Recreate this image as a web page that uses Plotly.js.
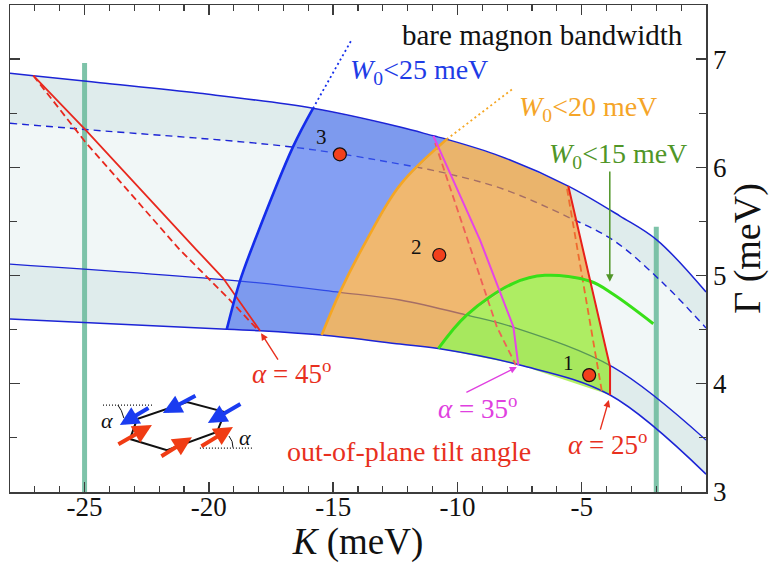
<!DOCTYPE html>
<html>
<head>
<meta charset="utf-8">
<script src="https://cdn.plot.ly/plotly-3.0.1.min.js"></script>
<style>
  html, body { margin: 0; padding: 0; background: #fff; }
  #chart { width: 774px; height: 563px; }
</style>
</head>
<body>
<div id="chart"></div>
<script>
const serif = '"Liberation Serif", "Times New Roman", Times, serif';

// ---- boundary curves of the (K, Γ) map, meV ----
// upper edge of the magnon band window
const K_top = [-28, -27.06, -24.38, -20.36, -15.81, -12.31, -10.97, -10.43, -8.29, -5.54, -3.46, -1.97, 0];
const G_top = [6.869, 6.847, 6.782, 6.684, 6.545, 6.372, 6.291, 6.259, 6.104, 5.827, 5.55, 5.328, 4.848];
// dashed centre line of the upper window
const K_dash = [-28, -24.98, -16.62, -12.31, -10.42, -8.17, -5.55, -3.74, -1.73, 0];
const G_dash = [6.407, 6.350, 6.187, 6.030, 5.943, 5.800, 5.541, 5.328, 4.931, 4.515];
// upper edge of the lower window
const K_mid = [-28, -18.75, -14.73, -12.31, -9.63, -7.77, -3.74, 0];
const G_mid = [5.106, 4.949, 4.845, 4.774, 4.635, 4.524, 4.154, 3.48];
// lower edge of the lower window
const K_bot = [-28, -19.28, -17.94, -15.46, -12.31, -10.77, -7.49, -3.86, 0];
const G_bot = [4.598, 4.503, 4.490, 4.450, 4.367, 4.325, 4.173, 3.896, 3.165];

// bare bandwidth contours
const K_w25 = [-19.28, -18.75, -18.145, -16.62, -15.81];
const G_w25 = [4.503, 4.949, 5.328, 6.187, 6.545];
const K_w25x = [-15.81, -14.26];
const G_w25x = [6.545, 7.177];
const K_w20 = [-15.46, -14.73, -13.65, -12.31, -10.43];
const G_w20 = [4.45, 4.845, 5.328, 5.836, 6.259];
const K_w20x = [-10.43, -7.75];
const G_w20x = [6.259, 6.73];
const K_w15 = [-10.77, -9.63, -7.75, -6.48, -4.65, -3.73, -2.12];
const G_w15 = [4.325, 4.635, 4.928, 5.002, 4.947, 4.827, 4.555];

// tilt-angle limits (solid and dashed)
const K_a45 = [-27.06, -24.98, -20.49, -19.43, -17.94];
const G_a45 = [6.847, 6.35, 5.236, 4.977, 4.49];
const K_a45d = [-27.06, -24.98, -21.16, -19.28, -18.02];
const G_a45d = [6.847, 6.237, 5.236, 4.804, 4.496];
const K_a35 = [-10.97, -9.09, -7.75, -7.55];
const G_a35 = [6.291, 5.328, 4.527, 4.173];
const K_a35d = [-10.90, -9.58, -8.41, -7.65];
const G_a35d = [6.225, 5.328, 4.524, 4.173];
const K_a25 = [-5.54, -4.65, -3.86, -3.86];
const G_a25 = [5.827, 4.947, 4.157, 3.896];
const K_a25d = [-5.59, -4.19];
const G_a25d = [5.802, 3.93];

// vertical markers
const K_vert = [-25, -2];
const G_vertTop = [6.964, 5.451];

// labelled parameter sets
const K_pts = [-4.70, -10.73, -14.73];
const G_pts = [4.08, 5.19, 6.12];
const ptLabels = ['1', '2', '3'];

// ---- helpers ----
function part(K, G, k0, k1) {
  const x = [], y = [];
  K.forEach((k, i) => { if (k >= k0 - 1e-9 && k <= k1 + 1e-9) { x.push(k); y.push(G[i]); } });
  return { x, y };
}
function rev(p) { return { x: p.x.slice().reverse(), y: p.y.slice().reverse() }; }
function join(...ps) { return { x: [].concat(...ps.map(p => p.x)), y: [].concat(...ps.map(p => p.y)) }; }

const blueLine = 'rgb(28,36,214)';
const traces = [];
function ghost(x, y) {
  traces.push({ x, y, mode: 'lines', line: { width: 0, shape: 'spline', color: 'rgba(0,0,0,0)' }, hoverinfo: 'skip' });
}
function band(x, y, color) {
  traces.push({ x, y, mode: 'lines', fill: 'tonexty', fillcolor: color,
    line: { width: 0, shape: 'spline', color: 'rgba(0,0,0,0)' }, hoverinfo: 'skip' });
}
function line(x, y, color, width, opts = {}) {
  traces.push({ x, y, mode: 'lines', hoverinfo: 'skip',
    line: Object.assign({ color, width, shape: 'spline' }, opts) });
}
function region(p, color) {
  traces.push({ x: p.x, y: p.y, mode: 'lines', fill: 'toself', fillcolor: color,
    line: { width: 0, color: 'rgba(0,0,0,0)' }, hoverinfo: 'skip' });
}

// band windows
ghost(K_bot, G_bot); band(K_top, G_top, 'rgb(241,247,247)');
ghost(K_dash, G_dash); band(K_top, G_top, 'rgb(223,236,236)');
ghost(K_bot, G_bot); band(K_mid, G_mid, 'rgb(223,236,236)');

// vertical markers
K_vert.forEach((k, i) => {
  traces.push({ x: [k, k], y: [G_vertTop[i], 3], mode: 'lines', hoverinfo: 'skip',
    line: { color: 'rgba(112,188,160,0.9)', width: 5 } });
});

// inner band lines (seen through the shaded regions)
line(K_dash, G_dash, blueLine, 1.4, { dash: '7px,5px' });
line(K_mid, G_mid, blueLine, 1.3);

// shaded bandwidth regions
region(join({ x: K_w25, y: G_w25 }, part(K_top, G_top, -15.81, -10.43),
  rev({ x: K_w20, y: G_w20 }), rev(part(K_bot, G_bot, -19.28, -15.46))), 'rgba(60,100,240,0.6)');
region(join({ x: K_w20, y: G_w20 }, part(K_top, G_top, -10.43, -5.54),
  { x: K_a25.slice(0, 2), y: G_a25.slice(0, 2) }, rev(part(K_w15, G_w15, -10.77, -4.65)),
  rev(part(K_bot, G_bot, -15.46, -10.77))), 'rgba(240,150,40,0.65)');
region(join(part(K_w15, G_w15, -10.77, -4.65), { x: K_a25.slice(1), y: G_a25.slice(1) },
  rev(part(K_bot, G_bot, -10.77, -3.86))), 'rgba(130,230,0,0.6)');

// outer band edges
line(K_top, G_top, blueLine, 1.5);
line(K_bot, G_bot, blueLine, 1.5);

// tilt-angle limits
line(K_a45, G_a45, '#e8281e', 1.8, { shape: 'linear' });
line(K_a45d, G_a45d, '#e8281e', 1.8, { shape: 'linear', dash: '7px,4px' });
line(K_a35d, G_a35d, '#f06058', 1.8, { shape: 'linear', dash: '7px,4px' });
line(K_a25d, G_a25d, '#ee6a30', 1.8, { shape: 'linear', dash: '7px,4px' });

// bandwidth contours
line(K_w25, G_w25, 'rgb(20,45,235)', 2.6);
line(K_w25x, G_w25x, 'rgb(20,45,235)', 1.8, { dash: '2px,3px' });
line(K_w20, G_w20, '#f5a623', 2.6);
line(K_w20x, G_w20x, '#f5a623', 1.8, { dash: '2px,3px' });
line(K_w15, G_w15, '#38e018', 3);

line(K_a25, G_a25, '#e8201a', 2, { shape: 'linear' });
line(K_a35, G_a35, '#e645e6', 2, { shape: 'linear' });

// parameter sets
traces.push({ x: K_pts, y: G_pts, mode: 'markers', hoverinfo: 'skip',
  marker: { size: 13, color: '#f2401c', line: { color: '#111', width: 1.2 } } });

// ---- text and pointers ----
function txt(x, y, text, color, size, anchor = 'center') {
  return { x, y, xref: 'x', yref: 'y', text, showarrow: false, xanchor: anchor, yanchor: 'middle',
    font: { family: serif, size, color } };
}
function arrow(x, y, ax, ay, color, width, size = 1) {
  return { x, y, ax, ay, xref: 'x', yref: 'y', axref: 'x', ayref: 'y', text: '', showarrow: true,
    arrowhead: 2, arrowsize: size, arrowwidth: width, arrowcolor: color, standoff: 0, startstandoff: 0 };
}
const red = '#e8301e', mag = '#e040e0', green = 'rgb(80,150,40)';
const annotations = [
  txt(-0.85, 7.223, 'bare magnon bandwidth', '#111', 29, 'right'),
  txt(-14.40, 6.881, '<i>W</i><sub>0</sub><25 meV', 'rgb(30,60,230)', 28, 'left'),
  txt(-7.62, 6.548, '<i>W</i><sub>0</sub><20 meV', 'rgb(245,165,40)', 28, 'left'),
  txt(-6.41, 6.114, '<i>W</i><sub>0</sub><15 meV', green, 28, 'left'),
  arrow(-3.87, 4.943, -3.87, 5.975, green, 1.5),
  txt(-16.66, 4.108, '<i>α</i> = 45<sup>o</sup>', red, 27),
  arrow(-17.90, 4.468, -17.18, 4.21, red, 1.4),
  txt(-9.21, 3.785, '<i>α</i> = 35<sup>o</sup>', mag, 27),
  arrow(-7.61, 4.154, -9.70, 3.914, mag, 1.4),
  txt(-3.95, 3.452, '<i>α</i> = 25<sup>o</sup>', red, 27),
  arrow(-3.91, 3.849, -4.27, 3.563, red, 1.4),
  txt(-11.95, 3.378, 'out-of-plane tilt angle', red, 28),
  txt(-15.46, 6.283, ptLabels[2], '#111', 21),
  txt(-11.64, 5.266, ptLabels[1], '#111', 21),
  txt(-5.54, 4.189, ptLabels[0], '#111', 21),
  // spin sketch: moments tilted out of the honeycomb plane
  txt(-24.10, 3.665, '<i>α</i>', '#111', 22),
  txt(-18.55, 3.507, '<i>α</i>', '#111', 22),
  arrow(-23.58, 3.618, -22.37, 3.785, '#1a3cf0', 4, 0.95),
  arrow(-21.85, 3.729, -20.48, 3.896, '#1a3cf0', 4, 0.95),
  arrow(-20.04, 3.637, -18.67, 3.822, '#1a3cf0', 4, 0.95),
  arrow(-22.29, 3.618, -23.70, 3.433, '#f03c14', 4, 0.95),
  arrow(-20.68, 3.507, -21.97, 3.322, '#f03c14', 4, 0.95),
  arrow(-19.03, 3.600, -20.36, 3.415, '#f03c14', 4, 0.95)
];

const shapes = [
  { type: 'path', xref: 'x', yref: 'y', line: { color: '#111', width: 2 },
    path: 'M -23.173,3.489 L -22.891,3.674 L -20.880,3.831 L -19.351,3.738 L -19.673,3.554 L -21.685,3.387 Z' },
  { type: 'line', xref: 'x', yref: 'y', x0: -24.26, x1: -22.25, y0: 3.803, y1: 3.803,
    line: { color: '#111', width: 1.3, dash: '1px,2px' } },
  { type: 'line', xref: 'x', yref: 'y', x0: -20.36, x1: -18.23, y0: 3.406, y1: 3.406,
    line: { color: '#111', width: 1.3, dash: '1px,2px' } },
  { type: 'path', xref: 'x', yref: 'y', line: { color: '#111', width: 1 },
    path: 'M -23.66,3.803 Q -23.50,3.76 -23.42,3.683' },
  { type: 'path', xref: 'x', yref: 'y', line: { color: '#111', width: 1 },
    path: 'M -19.19,3.517 Q -19.02,3.47 -19.03,3.41' }
];

const axisCommon = {
  showgrid: false, zeroline: false, showline: true, linecolor: '#3c3c3c', linewidth: 1.5,
  mirror: 'allticks', ticks: 'inside', ticklen: 10, tickwidth: 1.3, tickcolor: '#3c3c3c',
  tickfont: { family: serif, size: 27, color: '#111' }, automargin: false
};

const layout = {
  width: 774, height: 563,
  margin: { l: 10, r: 68, t: 5, b: 71 },
  paper_bgcolor: '#fff', plot_bgcolor: '#fff',
  showlegend: false,
  font: { family: serif, color: '#111' },
  xaxis: Object.assign({}, axisCommon, {
    range: [-28, 0],
    tickmode: 'array', tickvals: [-25, -20, -15, -10, -5], ticktext: ['-25', '-20', '-15', '-10', '-5'],
    ticklabelstandoff: -10,
    minor: { tickmode: 'linear', tick0: 0, dtick: 1, ticks: 'inside', ticklen: 6, tickwidth: 1.2, tickcolor: '#3c3c3c' },
    title: { text: '<i>K</i> (meV)', font: { family: serif, size: 37, color: '#111' }, standoff: 7 }
  }),
  yaxis: Object.assign({}, axisCommon, {
    range: [3, 7.5], side: 'right',
    tickmode: 'array', tickvals: [3, 4, 5, 6, 7], ticktext: ['3', '4', '5', '6', '7'],
    minor: { tickmode: 'linear', tick0: 0, dtick: 0.5, ticks: 'inside', ticklen: 7, tickwidth: 1.2, tickcolor: '#3c3c3c' },
    title: { text: 'Γ (meV)', font: { family: serif, size: 38, color: '#111' }, standoff: 4 }
  }),
  annotations, shapes
};

Plotly.newPlot('chart', traces, layout, { displayModeBar: false, staticPlot: true });
</script>
</body>
</html>
